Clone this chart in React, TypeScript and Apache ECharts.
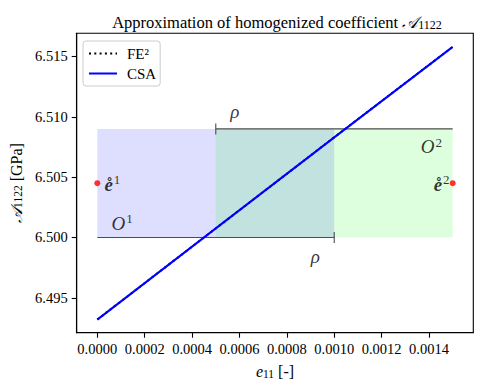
import React, { useEffect, useRef } from "react";
import * as echarts from "echarts";

// ---- data ----
const strainX = [0, 0.0005, 0.001, 0.0015];
const fe2Values = [6.4932, 6.50075, 6.5083, 6.5158];
const csaValues = [6.4932, 6.50075, 6.5083, 6.5158];
const xTicks = [0, 0.0002, 0.0004, 0.0006, 0.0008, 0.001, 0.0012, 0.0014];
const yTicks = [6.495, 6.5, 6.505, 6.51, 6.515];
// overlapping subdomains O1, O2: [x0, x1, y0, y1]
const box1 = [0, 0.001, 6.5, 6.509];
const box2 = [0.0005, 0.0015, 6.5, 6.509];
// dimension lines (rho): [x0, x1, y, tickX]
const rhoTop = [0.0005, 0.0015, 6.509, 0.0005];
const rhoBottom = [0, 0.001, 6.5, 0.001];
// sample points e1, e2
const samplePoints = [
  [0, 6.5045],
  [0.0015, 6.5045],
];
// annotation anchors
const labelE1 = [0.00003, 6.5044];
const labelE2 = [0.001487, 6.5044];
const labelO1 = [0.000105, 6.5012];
const labelO2 = [0.00141, 6.5075];
const labelRhoTop = [0.00058, 6.5104];
const labelRhoBottom = [0.00092, 6.4984];

const SERIF = "'Liberation Serif', 'DejaVu Serif', serif";

const richMath = {
  it: { fontFamily: SERIF, fontStyle: "italic", fontSize: 19, color: "#000", lineHeight: 22 },
  bi: { fontFamily: SERIF, fontStyle: "italic", fontWeight: "bold", fontSize: 19, color: "#000", lineHeight: 22 },
  sup: { fontFamily: SERIF, fontSize: 13, color: "#000", lineHeight: 22, verticalAlign: "top", padding: [0, 0, 0, 1] },
};

export default function App() {
  const ref = useRef<HTMLDivElement>(null);
  useEffect(() => {
    if (!ref.current) return;
    const chart = echarts.init(ref.current, undefined, { renderer: "svg" });
    const textSeries = (pos: number[], text: string, align: string) => ({
      type: "scatter",
      data: [pos],
      symbolSize: 0,
      silent: true,
      z: 10,
      label: {
        show: true,
        position: "inside",
        formatter: text,
        align,
        verticalAlign: "middle",
        rich: richMath,
      },
    });
    const boxSeries = (b: number[], color: string, z: number) => ({
      type: "custom",
      silent: true,
      z,
      data: [b],
      renderItem: (params: any, api: any) => {
        const p0 = api.coord([api.value(0), api.value(3)]);
        const p1 = api.coord([api.value(1), api.value(2)]);
        return {
          type: "rect",
          shape: { x: p0[0], y: p0[1], width: p1[0] - p0[0], height: p1[1] - p0[1] },
          style: { fill: color },
        };
      },
    });
    const dimSeries = (d: number[]) => ({
      type: "custom",
      silent: true,
      z: 3,
      data: [d],
      renderItem: (params: any, api: any) => {
        const a = api.coord([api.value(0), api.value(2)]);
        const b = api.coord([api.value(1), api.value(2)]);
        const t = api.coord([api.value(3), api.value(2)]);
        const st = { stroke: "#4d4d4d", lineWidth: 1.1 };
        return {
          type: "group",
          children: [
            { type: "line", shape: { x1: a[0], y1: a[1], x2: b[0], y2: b[1] }, style: st },
            { type: "line", shape: { x1: t[0], y1: t[1] - 5.5, x2: t[0], y2: t[1] + 5.5 }, style: st },
          ],
        };
      },
    });
    chart.setOption({
      animation: false,
      backgroundColor: "#fff",
      title: {
        text: "{n|Approximation of homogenized coefficient }{a|𝒜}{s|1122}",
        left: 272,
        textAlign: "center",
        top: 6,
        textStyle: {
          fontWeight: "normal",
          rich: {
            n: { fontFamily: SERIF, fontWeight: "normal", fontSize: 16.5, color: "#000", lineHeight: 20, verticalAlign: "bottom" },
            a: { fontFamily: SERIF, fontWeight: "normal", fontStyle: "italic", fontSize: 16.5, color: "#000", lineHeight: 20, verticalAlign: "bottom" },
            s: { fontFamily: SERIF, fontWeight: "normal", fontSize: 12, color: "#000", lineHeight: 20, verticalAlign: "bottom", padding: [4, 0, 0, 0] },
          },
        },
      },
      legend: {
        orient: "vertical",
        left: 83,
        top: 41,
        padding: [5, 4, 5, 5],
        itemWidth: 28,
        itemHeight: 10,
        itemGap: 5,
        backgroundColor: "rgba(255,255,255,0.85)",
        borderColor: "#cccccc",
        borderWidth: 1,
        borderRadius: 3,
        itemStyle: { opacity: 0 },
        textStyle: { fontFamily: SERIF, fontSize: 15, color: "#000", padding: [0, 0, 0, 5] },
        data: ["FE²", "CSA"],
      },
      grid: {
        left: 76.7,
        right: 14.7,
        top: 33.3,
        bottom: 58.3,
        show: true,
        borderColor: "#000",
        borderWidth: 1.1,
        backgroundColor: "transparent",
      },
      xAxis: {
        type: "value",
        min: -0.000087,
        max: 0.001587,
        name: "{i|e}{s|11}{n| [-]}",
        nameLocation: "middle",
        nameGap: 29,
        nameTextStyle: {
          rich: {
            i: { fontFamily: SERIF, fontStyle: "italic", fontSize: 16, color: "#000", lineHeight: 18, verticalAlign: "bottom" },
            s: { fontFamily: SERIF, fontSize: 11.5, color: "#000", lineHeight: 18, verticalAlign: "bottom", padding: [4, 0, 0, 0] },
            n: { fontFamily: SERIF, fontSize: 16, color: "#000", lineHeight: 18, verticalAlign: "bottom" },
          },
        },
        axisLine: { show: true, onZero: false, lineStyle: { color: "#000", width: 1.1 } },
        axisTick: { show: true, length: 5, customValues: xTicks, lineStyle: { color: "#000", width: 1.1 } },
        axisLabel: {
          customValues: xTicks,
          margin: 9,
          fontFamily: SERIF,
          fontSize: 14.5,
          color: "#000",
          formatter: (v: number) => v.toFixed(4),
        },
        splitLine: { show: false },
      },
      yAxis: {
        type: "value",
        min: 6.49211,
        max: 6.51692,
        name: "{a|𝒜}{s|1122}{n| [GPa]}",
        nameLocation: "middle",
        nameGap: 47,
        nameRotate: 90,
        nameTextStyle: {
          rich: {
            a: { fontFamily: SERIF, fontStyle: "italic", fontSize: 16, color: "#000", lineHeight: 18, verticalAlign: "bottom" },
            s: { fontFamily: SERIF, fontSize: 11.5, color: "#000", lineHeight: 18, verticalAlign: "bottom", padding: [4, 0, 0, 0] },
            n: { fontFamily: SERIF, fontSize: 16, color: "#000", lineHeight: 18, verticalAlign: "bottom" },
          },
        },
        axisLine: { show: true, onZero: false, lineStyle: { color: "#000", width: 1.1 } },
        axisTick: { show: true, length: 5, customValues: yTicks, lineStyle: { color: "#000", width: 1.1 } },
        axisLabel: {
          customValues: yTicks,
          margin: 9,
          fontFamily: SERIF,
          fontSize: 14.5,
          color: "#000",
          formatter: (v: number) => v.toFixed(3),
        },
        splitLine: { show: false },
      },
      series: [
        boxSeries(box1, "rgba(0,0,255,0.13)", 1),
        boxSeries(box2, "rgba(0,255,0,0.13)", 1),
        dimSeries(rhoTop),
        dimSeries(rhoBottom),
        {
          name: "FE²",
          type: "line",
          data: strainX.map((x, i) => [x, fe2Values[i]]),
          showSymbol: false,
          symbol: "none",
          z: 4,
          lineStyle: { color: "#000", width: 2, type: [2, 3.3] },
          itemStyle: { color: "#000" },
        },
        {
          name: "CSA",
          type: "line",
          data: strainX.map((x, i) => [x, csaValues[i]]),
          showSymbol: false,
          symbol: "none",
          z: 5,
          lineStyle: { color: "#0000ff", width: 2.1 },
          itemStyle: { color: "#0000ff" },
        },
        {
          type: "scatter",
          data: samplePoints,
          symbolSize: 6,
          z: 6,
          itemStyle: { color: "#ff0000" },
        },
        textSeries(labelE1, "{bi|e\u030A}{sup|1}", "left"),
        textSeries(labelE2, "{bi|e\u030A}{sup|2}", "right"),
        textSeries(labelO1, "{it|O}{sup|1}", "center"),
        textSeries(labelO2, "{it|O}{sup|2}", "center"),
        textSeries(labelRhoTop, "{it|ρ}", "center"),
        textSeries(labelRhoBottom, "{it|ρ}", "center"),
      ],
    });
    return () => chart.dispose();
  }, []);
  return (
    <div
      ref={ref}
      style={{ position: "absolute", left: 0, top: 0, width: 488, height: 391 }}
    />
  );
}
